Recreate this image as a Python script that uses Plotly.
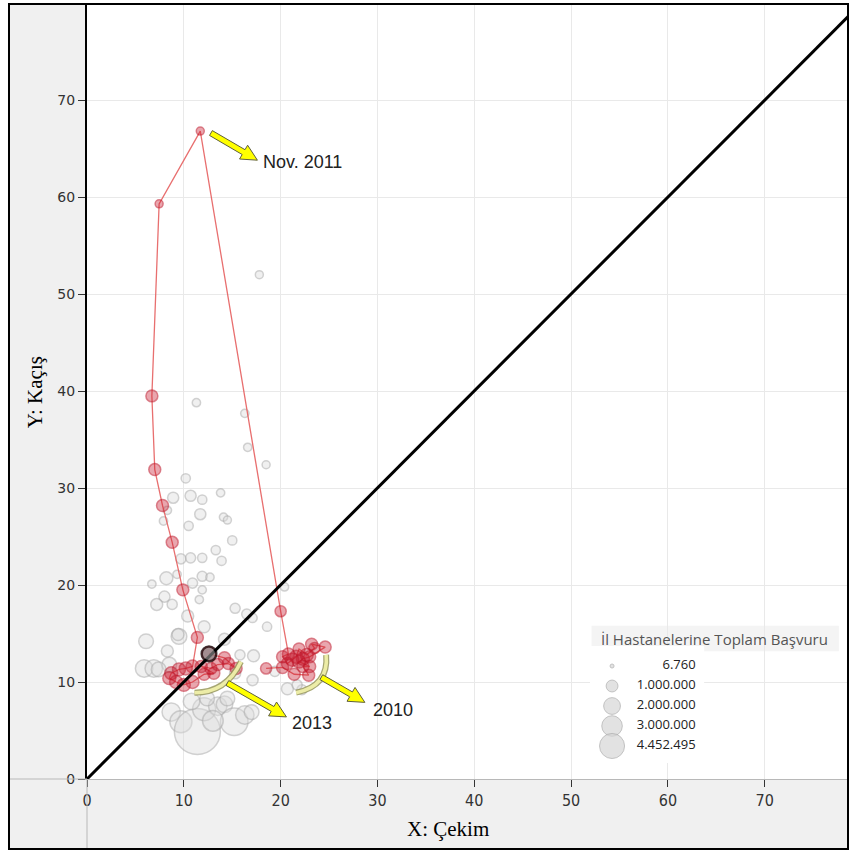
import math
import plotly.graph_objects as go

# ---------------- data ----------------
grey_x = [17.8, 11.3, 16.3, 16.6, 18.5, 10.2, 8.9, 10.7, 11.9, 13.8, 8.3, 7.9,
          11.7, 14.1, 14.5, 10.5, 15.0, 13.3, 13.9, 9.7, 10.7, 11.9, 8.2, 9.3,
          10.9, 11.9, 12.7, 6.7, 11.9, 8.0, 7.2, 8.8, 11.6, 10.4, 15.3, 16.5,
          17.1, 18.6, 20.4, 12.1, 9.5, 6.1, 9.4, 14.2, 8.3, 15.8, 17.2, 5.9,
          6.9, 8.5, 7.4, 17.1, 15.3, 20.7, 22.2, 19.4, 21.7,
          8.7, 9.7, 11.4, 12.1, 13.5, 14.2, 15.2, 16.3, 17.0, 14.5, 12.4, 10.8, 13.0]
grey_y = [52.0, 38.8, 37.7, 34.2, 32.4, 31.0, 29.0, 29.2, 28.8, 29.5, 27.7, 26.6,
          27.3, 27.0, 26.7, 26.1, 24.6, 23.6, 22.5, 22.7, 22.8, 22.8, 20.7, 21.1,
          20.2, 20.9, 20.8, 20.1, 19.5, 18.8, 18.0, 18.0, 18.5, 16.8, 17.6, 17.0,
          16.6, 15.7, 19.8, 15.7, 14.7, 14.2, 14.9, 14.4, 13.2, 12.8, 12.7, 11.4,
          11.4, 11.8, 11.3, 10.2, 10.9, 9.3, 9.2, 11.1, 9.7,
          6.9, 5.9, 4.9, 7.2, 7.5, 7.7, 5.9, 6.6, 6.9, 8.3, 8.3, 8.0, 6.0]
grey_v = [65000, 145000, 145000, 145000, 65000, 180000, 260000, 260000, 180000, 145000, 145000, 145000,
          260000, 145000, 90000, 180000, 180000, 180000, 180000, 215000, 215000, 180000, 350000, 145000,
          215000, 215000, 145000, 145000, 145000, 260000, 300000, 215000, 145000, 300000, 215000, 215000,
          180000, 180000, 145000, 300000, 515000, 455000, 300000, 300000, 300000, 215000, 300000, 640000,
          640000, 455000, 455000, 260000, 260000, 300000, 215000, 215000, 215000,
          710000, 1025000, 4452495, 1110000, 710000, 575000, 1600000, 710000, 455000, 455000, 455000, 575000, 900000]

red_x = [18.5, 20.2, 21.4, 22.9, 22.3, 23.0, 21.9, 22.3, 23.0, 24.6, 23.2, 23.5, 22.7, 21.9,
         21.6, 21.2, 20.7, 20.2, 20.8,
         20.0, 11.7, 7.45, 6.7, 7.0, 7.8, 8.8, 9.9, 11.4,
         10.9, 10.2, 9.5, 8.7, 8.5, 9.2, 10.0, 10.9, 12.1, 13.1, 11.8, 12.8, 13.5, 14.6, 15.4, 14.2,
         12.6]
red_y = [11.4, 11.5, 10.8, 10.7, 11.6, 11.6, 12.1, 12.4, 12.6, 13.6, 13.9, 13.5, 12.8, 13.4,
         12.6, 12.3, 11.9, 12.6, 12.9,
         17.3, 66.8, 59.3, 39.5, 31.9, 28.2, 24.4, 19.5, 14.6,
         11.6, 11.4, 11.3, 10.9, 10.4, 10.0, 9.7, 10.0, 10.8, 10.9, 11.6, 11.4, 11.8, 11.9, 11.4, 12.5,
         12.9]
red_v = [260000, 300000, 300000, 300000, 300000, 300000, 350000, 350000, 300000, 300000, 300000, 260000, 350000, 300000,
         350000, 350000, 300000, 300000, 300000,
         260000, 55000, 110000, 300000, 300000, 300000, 300000, 300000, 300000,
         350000, 350000, 350000, 350000, 350000, 350000, 350000, 350000, 300000, 300000, 300000, 300000, 300000, 300000, 300000, 300000,
         450000]

legend_values = [6760, 1000000, 2000000, 3000000, 4452495]
legend_labels = ["6.760", "1.000.000", "2.000.000", "3.000.000", "4.452.495"]
legend_rows = [0, 1, 2, 3, 4]

diag = [0, 80]
ticks = [0, 10, 20, 30, 40, 50, 60, 70]

MAXV = 4452495
main_ref = 2.0 * MAXV / (46 ** 2)
leg_ref = 2.0 * MAXV / (25 ** 2)

X_MAX, Y_MAX = 78.6, 79.8
PLOT_W, PLOT_H = 761, 774
SX, SY = PLOT_W / X_MAX, PLOT_H / Y_MAX   # px per data unit

fig = go.Figure()

fig.add_trace(go.Scatter(
    x=grey_x, y=grey_y, mode="markers",
    marker=dict(size=grey_v, sizemode="area", sizeref=main_ref, sizemin=4,
                color="rgba(220,220,220,0.6)",
                line=dict(color="rgba(170,170,170,0.75)", width=1.5)),
    hoverinfo="skip", showlegend=False))

fig.add_trace(go.Scatter(
    x=red_x, y=red_y, mode="lines+markers",
    line=dict(color="rgba(230,95,95,0.9)", width=1.3),
    marker=dict(size=red_v, sizemode="area", sizeref=main_ref, sizemin=4,
                color="rgba(200,25,45,0.55)",
                line=dict(color="rgba(190,20,40,0.75)", width=1.5)),
    hoverinfo="skip", showlegend=False))

fig.add_trace(go.Scatter(
    x=diag, y=diag, mode="lines", line=dict(color="black", width=3),
    hoverinfo="skip", showlegend=False))

fig.add_trace(go.Scatter(
    x=red_x[-1:], y=red_y[-1:], mode="markers",
    marker=dict(size=red_v[-1:], sizemode="area", sizeref=main_ref,
                color="#858585", line=dict(color="black", width=2.5)),
    hoverinfo="skip", showlegend=False))

# size legend
fig.add_trace(go.Scatter(
    x=[0.193] * len(legend_values), y=legend_rows, xaxis="x2", yaxis="y2",
    mode="markers",
    marker=dict(size=legend_values, sizemode="area", sizeref=leg_ref, sizemin=2,
                color="#d6d6d6", line=dict(color="#a9a9a9", width=1)),
    hoverinfo="skip", showlegend=False))
fig.add_trace(go.Scatter(
    x=[0.925] * len(legend_values), y=legend_rows, xaxis="x2", yaxis="y2",
    mode="text", text=legend_labels, textposition="middle left",
    textfont=dict(family="Open Sans, Noto Sans, sans-serif", size=13, color="#222"),
    hoverinfo="skip", showlegend=False))

# ---------------- decorations ----------------
shapes = []
shapes.append(dict(type="rect", xref="paper", yref="paper", x0=-0.1025, x1=0, y0=-0.0904, y1=1.0,
                   fillcolor="#f0f0f0", line=dict(width=0), layer="below"))
shapes.append(dict(type="rect", xref="paper", yref="paper", x0=0, x1=1.0, y0=-0.0904, y1=0,
                   fillcolor="#f0f0f0", line=dict(width=0), layer="below"))
shapes.append(dict(type="line", xref="paper", yref="paper", x0=-0.1025, x1=0, y0=0, y1=0,
                   line=dict(color="#b8b8b8", width=1)))
shapes.append(dict(type="line", xref="paper", yref="paper", x0=0, x1=0, y0=-0.0904, y1=0,
                   line=dict(color="#b8b8b8", width=1)))
shapes.append(dict(type="rect", xref="paper", yref="paper", x0=0.663, x1=0.988, y0=0.165, y1=0.198,
                   fillcolor="#f4f4f4", line=dict(width=0), layer="below"))

# curved brackets
arcs = [((11.1, 8.9), (14.4, 8.9), (15.9, 12.1)),
        ((21.6, 8.9), (25.0, 9.6), (24.7, 12.8))]
for (p0, c, p1) in arcs:
    path = f"M {p0[0]},{p0[1]} Q {c[0]},{c[1]} {p1[0]},{p1[1]}"
    shapes.append(dict(type="path", xref="x", yref="y", path=path,
                       line=dict(color="rgba(150,150,90,0.85)", width=6)))
    shapes.append(dict(type="path", xref="x", yref="y", path=path,
                       line=dict(color="rgba(240,240,170,0.95)", width=3.5)))

# yellow block arrows
def arrow_path(head, tail, shaft=2.8, hw=8.0, hl=16.0):
    hx, hy = head[0] * SX, head[1] * SY
    tx, ty = tail[0] * SX, tail[1] * SY
    dx, dy = hx - tx, hy - ty
    L = math.hypot(dx, dy)
    ux, uy = dx / L, dy / L
    nx, ny = -uy, ux
    bx, by = hx - ux * hl, hy - uy * hl
    pts = [(tx + nx * shaft, ty + ny * shaft), (bx + nx * shaft, by + ny * shaft),
           (bx + nx * hw, by + ny * hw), (hx, hy),
           (bx - nx * hw, by - ny * hw), (bx - nx * shaft, by - ny * shaft),
           (tx - nx * shaft, ty - ny * shaft)]
    return "M " + " L ".join(f"{px / SX:.4f},{py / SY:.4f}" for px, py in pts) + " Z"

arrows = [((17.6, 63.8), (12.8, 66.6)),
          ((20.6, 6.4), (14.5, 9.9)),
          ((28.7, 7.9), (24.2, 10.5))]
for head, tail in arrows:
    shapes.append(dict(type="path", xref="x", yref="y", path=arrow_path(head, tail),
                       fillcolor="#ffff00", line=dict(color="#5f5f3c", width=1)))

# outer frame
shapes.append(dict(type="rect", xref="paper", yref="paper", x0=-0.1025, x1=1.0, y0=-0.0904, y1=1.0013,
                   line=dict(color="black", width=2), fillcolor="rgba(0,0,0,0)"))

annotations = []
labels = [("Nov. 2011", 18.0, 63.6), ("2013", 21.0, 5.8), ("2010", 29.3, 7.1)]
for t, x, y in labels:
    annotations.append(dict(x=x, y=y, xref="x", yref="y", text=t, showarrow=False,
                            xanchor="left", yanchor="middle",
                            font=dict(family="Liberation Sans, Arial", size=18, color="#222")))
annotations.append(dict(x=-0.068, y=0.5, xref="paper", yref="paper", text="Y: Kaçış",
                        showarrow=False, textangle=-90, xanchor="center", yanchor="middle",
                        font=dict(family="Liberation Serif, Times New Roman, serif", size=21, color="black")))
annotations.append(dict(x=0.474, y=-0.064, xref="paper", yref="paper", text="X: Çekim",
                        showarrow=False, xanchor="center", yanchor="middle",
                        font=dict(family="Liberation Serif, Times New Roman, serif", size=21, color="black")))
annotations.append(dict(x=0.8245, y=0.1815, xref="paper", yref="paper",
                        text="İl Hastanelerine Toplam Başvuru", showarrow=False,
                        xanchor="center", yanchor="middle",
                        font=dict(family="Open Sans, Noto Sans, sans-serif", size=15, color="#555")))

fig.update_layout(
    width=850, height=853,
    margin=dict(l=87, r=2, t=5, b=74),
    paper_bgcolor="white", plot_bgcolor="white",
    showlegend=False,
    shapes=shapes, annotations=annotations,
    xaxis=dict(range=[0, X_MAX], tickvals=ticks, ticks="outside", ticklen=7, tickcolor="#333",
               showgrid=True, gridcolor="#e9e9e9", gridwidth=1, zeroline=False,
               showline=True, linecolor="#b8b8b8", linewidth=1,
               tickfont=dict(family="Liberation Sans Narrow, DejaVu Sans Condensed, Arial Narrow", size=16, color="#333")),
    yaxis=dict(range=[0, Y_MAX], tickvals=ticks, ticks="outside", ticklen=7, tickcolor="#333",
               showgrid=True, gridcolor="#e9e9e9", gridwidth=1, zeroline=False,
               showline=True, linecolor="black", linewidth=2,
               tickfont=dict(family="DejaVu Sans, Tahoma", size=14, color="#333")),
    xaxis2=dict(domain=[0.661, 0.811], range=[0, 1], visible=False, anchor="y2"),
    yaxis2=dict(domain=[0.0207, 0.1718], range=[4.85, -1.0], visible=False, anchor="x2"),
)

fig.write_html("out.html", config={"displayModeBar": False},
               post_script="document.body.style.margin='0px';")
